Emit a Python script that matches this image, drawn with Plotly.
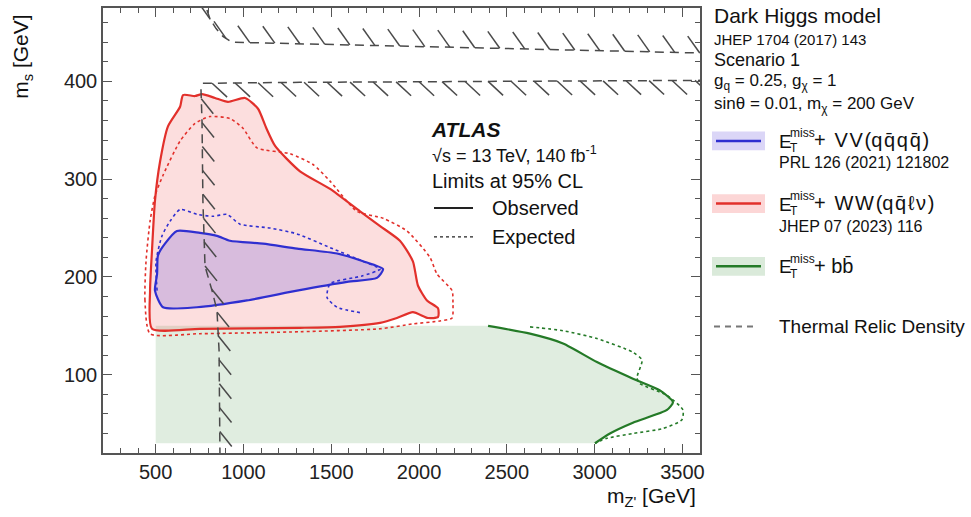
import numpy as np
import plotly.graph_objects as go

# ---------------- data ----------------
x_range = [200, 3600]
y_range = [20, 475]
x_ticks = [500, 1000, 1500, 2000, 2500, 3000, 3500]
y_ticks = [100, 200, 300, 400]

# E_T^miss + WW(qq l nu), observed (closed)
ww_obs_x = [479, 468, 479, 496, 525, 570, 639, 656, 724, 764, 838, 912, 1009, 1083, 1128, 1180, 1322, 1493,
            1664, 1778, 1891, 1965, 1994, 2045, 2108, 2108, 2051, 1965, 1874, 1778, 1550, 1322, 752, 479]
ww_obs_y = [147, 186, 227, 278, 318, 354, 374, 386, 385, 387, 383, 379, 383, 372, 353, 334, 308, 290,
            267, 252, 237, 216, 191, 176, 168, 159, 158, 164, 158, 153, 149, 148, 147, 147]
# expected (closed)
ww_exp_x = [468, 439, 445, 468, 496, 542, 639, 724, 809, 923, 997, 1077, 1265, 1396, 1493, 1647, 1795,
            1931, 2062, 2102, 2188, 2193, 2188, 2119, 1965, 1778, 1322, 752, 468]
ww_exp_y = [142, 176, 216, 257, 283, 304, 339, 357, 364, 362, 352, 332, 326, 315, 298, 267, 260,
            247, 220, 203, 186, 173, 158, 155, 152, 147, 144, 142, 142]

# E_T^miss + VV(qqqq), observed (closed)
vv_obs_x = [513, 553, 621, 752, 849, 923, 1111, 1305, 1533, 1681, 1795, 1760, 1590, 1305, 1020, 735, 542, 496, 508, 513]
vv_obs_y = [222, 234, 247, 245, 242, 237, 234, 229, 224, 216, 208, 199, 195, 186, 176, 169, 169, 186, 203, 222]
# expected (open)
vv_exp_x = [508, 502, 536, 582, 639, 735, 826, 906, 980, 1151, 1305, 1493, 1681, 1778, 1675, 1493, 1476, 1533, 1681]
vv_exp_y = [186, 216, 242, 257, 269, 264, 262, 264, 254, 250, 244, 230, 216, 208, 201, 193, 179, 169, 163]

# E_T^miss + bb, observed / expected
bb_obs_x = [2393, 2632, 2820, 3013, 3218, 3372, 3446, 3412, 3218, 3087, 3002]
bb_obs_y = [150, 142, 132, 113, 96, 84, 72, 64, 51, 40, 30]
bb_exp_x = [2632, 2820, 3013, 3218, 3270, 3241, 3258, 3412, 3503, 3497, 3389, 3218, 3070, 3002]
bb_exp_y = [149, 145, 137, 123, 115, 97, 91, 79, 64, 54, 45, 40, 35, 30]
bb_left, bb_bottom, bb_top = 500, 30, 150

# Thermal relic density lines
relic_top_x = [792, 809, 844, 883, 935, 2176, 3600]
relic_top_y = [473, 464, 454, 446, 440, 435, 429]
relic_mid_x = [769, 1322, 2461, 3600]
relic_mid_y = [398, 399, 400, 401]
relic_vert_x = [758, 764, 769, 781, 821, 849, 861, 866]
relic_vert_y = [392, 359, 278, 211, 186, 166, 125, 20]

# ---------------- geometry helpers ----------------
W, H = 971, 517
ML, MR, MT, MB = 103, 271, 6, 64
PW, PH = W - ML - MR, H - MT - MB
SX = PW / (x_range[1] - x_range[0])
SY = PH / (y_range[1] - y_range[0])


def hatch(xs, ys, spacing, dxp, dyp):
    """Short hatch strokes along a polyline; offsets in screen pixels (y down)."""
    px = (np.array(xs, float) - x_range[0]) * SX
    py = (np.array(ys, float) - y_range[0]) * SY
    seg = np.hypot(np.diff(px), np.diff(py))
    cum = np.concatenate([[0], np.cumsum(seg)])
    hx, hy = [], []
    s = spacing * 0.4
    while s < cum[-1]:
        x0 = np.interp(s, cum, px)
        y0 = np.interp(s, cum, py)
        hx += [x0 / SX + x_range[0], (x0 + dxp) / SX + x_range[0], None]
        hy += [y0 / SY + y_range[0], (y0 - dyp) / SY + y_range[0], None]
        s += spacing
    return hx, hy


def pp(px, py):
    return (px - ML) / PW, (MT + PH - py) / PH


RED, BLUE, GREEN, GREY = "#e2302b", "#2f2fd0", "#247a27", "#4a4a4a"
FONT = "Liberation Sans, Arial, sans-serif"
SPL = dict(shape="spline", smoothing=0.6)
HS = "\u200a"  # hair space, widens TLatex-like spacing

fig = go.Figure()

# green filled region
fig.add_trace(go.Scatter(x=[bb_left, bb_left] + bb_obs_x, y=[bb_bottom, bb_top] + bb_obs_y,
                         fill="toself", fillcolor="rgba(70,150,70,0.17)", line=dict(width=0),
                         mode="lines", hoverinfo="skip"))
# red filled region
fig.add_trace(go.Scatter(x=ww_obs_x, y=ww_obs_y, fill="toself", fillcolor="rgba(240,70,70,0.18)",
                         line=dict(color=RED, width=2.2, **SPL), mode="lines", hoverinfo="skip"))
fig.add_trace(go.Scatter(x=ww_exp_x, y=ww_exp_y, line=dict(color=RED, width=1.6, dash="dot", **SPL),
                         mode="lines", hoverinfo="skip"))
# blue filled region
fig.add_trace(go.Scatter(x=vv_obs_x, y=vv_obs_y, fill="toself", fillcolor="rgba(90,70,220,0.22)",
                         line=dict(color=BLUE, width=2.2, **SPL), mode="lines", hoverinfo="skip"))
fig.add_trace(go.Scatter(x=vv_exp_x, y=vv_exp_y, line=dict(color=BLUE, width=1.6, dash="dot", **SPL),
                         mode="lines", hoverinfo="skip"))
# green lines
fig.add_trace(go.Scatter(x=bb_obs_x, y=bb_obs_y, line=dict(color=GREEN, width=2.2, **SPL),
                         mode="lines", hoverinfo="skip"))
fig.add_trace(go.Scatter(x=bb_exp_x, y=bb_exp_y, line=dict(color=GREEN, width=1.6, dash="dot", **SPL),
                         mode="lines", hoverinfo="skip"))

# thermal relic lines + hatches
for xs, ys, sp, dx, dy in [(relic_top_x, relic_top_y, 25, -12, -17),
                           (relic_mid_x, relic_mid_y, 23, 15, 14),
                           (relic_vert_x, relic_vert_y, 24, 12, 15)]:
    fig.add_trace(go.Scatter(x=xs, y=ys, line=dict(color=GREY, width=1.5, dash="9px,6px"),
                             mode="lines", hoverinfo="skip"))
    hx, hy = hatch(xs, ys, sp, dx, dy)
    fig.add_trace(go.Scatter(x=hx, y=hy, line=dict(color=GREY, width=1.5),
                             mode="lines", hoverinfo="skip", cliponaxis=True))

shapes = []
ann = []


def text(px, py, s, size, **kw):
    x, y = pp(px, py)
    d = dict(x=x, y=y, xref="paper", yref="paper", text=s, showarrow=False,
             xanchor=kw.pop("xanchor", "left"), yanchor=kw.pop("yanchor", "middle"),
             font=dict(family=FONT, size=size, color="#111"))
    d.update(kw)
    ann.append(d)


def line(px0, py0, px1, py1, color, width, dash="solid"):
    x0, y0 = pp(px0, py0)
    x1, y1 = pp(px1, py1)
    shapes.append(dict(type="line", xref="paper", yref="paper", x0=x0, y0=y0, x1=x1, y1=y1,
                       line=dict(color=color, width=width, dash=dash)))


def box(px0, py0, px1, py1, fill):
    x0, y0 = pp(px0, py0)
    x1, y1 = pp(px1, py1)
    shapes.append(dict(type="rect", xref="paper", yref="paper", x0=x0, y0=y0, x1=x1, y1=y1,
                       fillcolor=fill, line=dict(width=0)))


def etmiss(px, py, rest):
    text(px, py + 1, "E", 19)
    text(px + 11, py - 7, "miss", 12)
    text(px + 11, py + 8, "T", 12)
    text(px + 35, py, rest, 20)


# ATLAS block
text(429, 128, "<b><i>ATLAS</i></b>", 21)
text(430, 153, "√s = 13 TeV, 140 fb<sup>-1</sup>", 18)
text(430, 180, "Limits at 95% CL", 20)
line(434, 207, 473, 207, "#222", 2)
text(490, 207, "Observed", 20)
line(434, 236, 473, 236, "#222", 1.3, "dot")
text(490, 236, "Expected", 20)

# right-side legend
text(712, 14, "Dark Higgs model", 21)
text(712, 38, "JHEP 1704 (2017) 143", 15)
text(712, 58, "Scenario 1", 18)
text(712, 80, "g<sub>q</sub> = 0.25, g<sub>χ</sub> = 1", 17)
text(712, 103, "sinθ = 0.01, m<sub>χ</sub> = 200 GeV", 17)

box(712, 130, 765, 149, "rgba(90,70,220,0.22)")
line(716, 139.5, 761, 139.5, BLUE, 2.5)
etmiss(777, 139, HS.join("+ VV(") + "q" + HS + "q̄" + HS + "q" + HS + "q̄" + HS + ")")
text(777, 161, "PRL 126 (2021) 121802", 16)

box(712, 193, 765, 212, "rgba(240,70,70,0.22)")
line(716, 202.5, 761, 202.5, RED, 2.5)
etmiss(777, 202, HS.join("+ WW(") + "q" + HS + "q̄" + HS + "ℓ" + HS + "ν" + HS + ")")
text(777, 225, "JHEP 07 (2023) 116", 16)

box(712, 256, 765, 275, "rgba(70,150,70,0.2)")
line(716, 265.5, 761, 265.5, GREEN, 2.5)
etmiss(777, 265, "+ bb̄")

line(714, 326, 753, 326, "#777", 2, "6px,5px")
text(777, 326, "Thermal Relic Density", 19)

# axis titles
text(22, 55, "m<sub>s</sub> [GeV]", 21, xanchor="center", textangle=-90)
text(698, 497, "m<sub>Z'</sub> [GeV]", 21, xanchor="right")

axis_common = dict(showline=True, linecolor="#555", linewidth=1.5, mirror="ticks", ticks="inside",
                   ticklen=9, tickcolor="#555", tickwidth=1.2, showgrid=False, zeroline=False,
                   tickfont=dict(family=FONT, size=20, color="#222"))

fig.update_layout(
    width=W, height=H, margin=dict(l=ML, r=MR, t=MT, b=MB),
    paper_bgcolor="white", plot_bgcolor="white", showlegend=False,
    shapes=shapes, annotations=ann,
    xaxis=dict(range=x_range, tickvals=x_ticks,
               minor=dict(dtick=100, tick0=0, ticks="inside", ticklen=5, tickcolor="#555"),
               **axis_common),
    yaxis=dict(range=y_range, tickvals=y_ticks,
               minor=dict(dtick=20, tick0=0, ticks="inside", ticklen=5, tickcolor="#555"),
               **axis_common),
)

fig.write_html("out.html", config={"displayModeBar": False},
               post_script="document.body.style.margin='0px';")
